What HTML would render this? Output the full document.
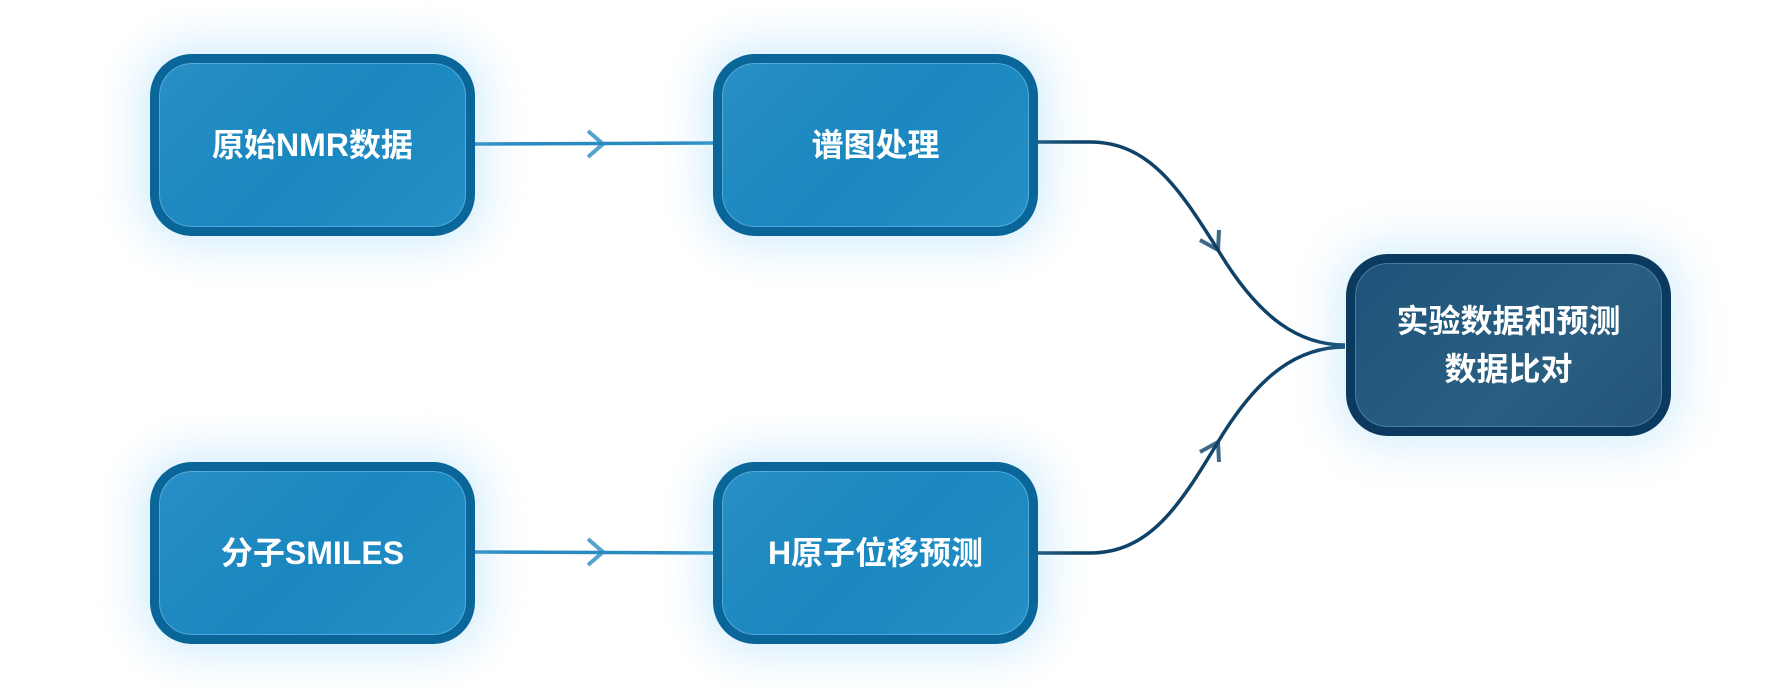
<!DOCTYPE html>
<html><head><meta charset="utf-8"><style>
html,body{margin:0;padding:0;background:#fff;}
body{width:1786px;height:690px;position:relative;overflow:hidden;font-family:"Liberation Sans","Noto Sans CJK SC",sans-serif;}
.b{position:absolute;width:325px;height:182px;box-sizing:border-box;border:9px solid #0a6699;border-radius:42px;background:linear-gradient(135deg,#288fc4,#1a87c0 50%,#2590c6);box-shadow:0 0 40px 14px rgba(120,200,245,0.28),inset 0 0 0 1px rgba(120,190,230,0.6);color:#fff;font-size:32px;font-weight:bold;display:flex;align-items:center;justify-content:center;text-align:center;line-height:48px;}
.d{border-color:#0c3a5e;background:linear-gradient(135deg,#1e527a,#2a5f82 60%,#225478);box-shadow:0 0 40px 14px rgba(120,200,245,0.25),inset 0 0 0 1px rgba(100,150,190,0.6);}
svg{position:absolute;left:0;top:0;}
</style></head><body>
<svg width="1786" height="690">
<g fill="none" stroke-width="3.5">
<path d="M475,144 L713,143" stroke="#2a8bc0"/>
<path d="M588,131 L603,144 L588,157" stroke="#2a8bc0" stroke-width="4" opacity="0.8"/>
<path d="M475,552 L713,553" stroke="#2a8bc0"/>
<path d="M588,539 L603,552 L588,565" stroke="#2a8bc0" stroke-width="4" opacity="0.8"/>
<path d="M1038,142 L1090,142 C1150,142 1180,190 1218,250 C1260,320 1300,345 1345,345" stroke="#0e4268"/>
<path d="M1038,553 L1090,553 C1150,553 1180,505 1218,442 C1260,372 1300,347 1345,347" stroke="#0e4268"/>
<path d="M1200,240 L1218,250 L1219,230" stroke="#0e4268" stroke-width="4" opacity="0.8"/>
<path d="M1200,452 L1218,442 L1219,462" stroke="#0e4268" stroke-width="4" opacity="0.8"/>
</g>
</svg>
<div class="b" style="left:150px;top:54px;">原始NMR数据</div>
<div class="b" style="left:713px;top:54px;">谱图处理</div>
<div class="b" style="left:150px;top:462px;">分子SMILES</div>
<div class="b" style="left:713px;top:462px;">H原子位移预测</div>
<div class="b d" style="left:1346px;top:254px;">实验数据和预测<br>数据比对</div>
</body></html>
